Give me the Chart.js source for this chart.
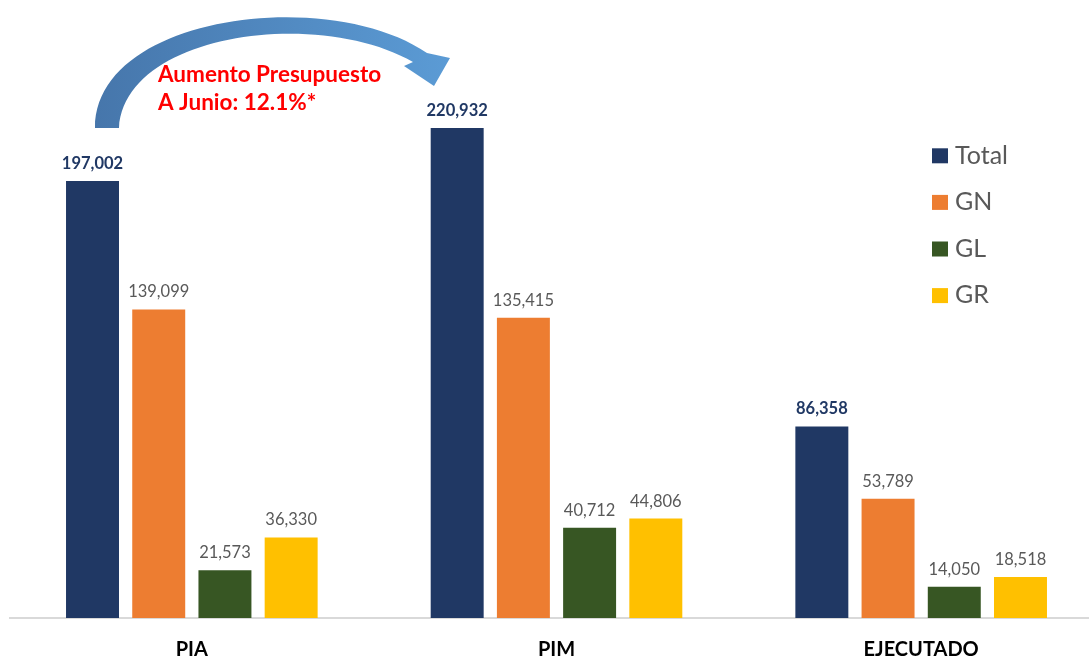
<!DOCTYPE html>
<html>
<head>
<meta charset="utf-8">
<script src="https://cdn.jsdelivr.net/npm/chart.js@4.4.1/dist/chart.umd.min.js"></script>
<style>
  html, body { margin: 0; padding: 0; background: #fff; overflow: hidden; }
  #wrap { width: 1089px; height: 660px; position: relative; overflow: hidden; }
</style>
</head>
<body>
<div id="wrap"><canvas id="c" width="1104" height="682" style="width:1104px;height:682px"></canvas></div>
<script>
const categories = ['PIA', 'PIM', 'EJECUTADO'];
const seriesNames = ['Total', 'GN', 'GL', 'GR'];
const totalValues = [197002, 220932, 86358];
const gnValues = [139099, 135415, 53789];
const glValues = [21573, 40712, 14050];
const grValues = [36330, 44806, 18518];
const annotationLines = ['Aumento Presupuesto', 'A Junio: 12.1%*'];

const seriesColors = ['#203864', '#ED7D31', '#375623', '#FFC000'];
const seriesValues = [totalValues, gnValues, glValues, grValues];

const fmt = v => v.toLocaleString('en-US');

const labelPlugin = {
  id: 'valueLabels',
  afterDatasetsDraw(chart) {
    const ctx = chart.ctx;
    ctx.save();
    ctx.textAlign = 'center';
    ctx.textBaseline = 'alphabetic';
    chart.data.datasets.forEach((ds, di) => {
      const meta = chart.getDatasetMeta(di);
      meta.data.forEach((el, i) => {
        if (di === 0) {
          ctx.font = 'bold 16.5px Lato';
          ctx.fillStyle = '#203864';
        } else {
          ctx.font = '16.5px Lato';
          ctx.fillStyle = '#595959';
        }
        ctx.fillText(fmt(ds.data[i]), el.x, el.y - 12);
      });
    });
    ctx.restore();
  }
};

const legendPlugin = {
  id: 'sideLegend',
  afterDraw(chart) {
    const ctx = chart.ctx;
    ctx.save();
    ctx.font = '25px Lato';
    ctx.textAlign = 'left';
    ctx.textBaseline = 'alphabetic';
    chart.data.datasets.forEach((ds, i) => {
      const cy = 155.8 + i * 46.6;
      ctx.fillStyle = ds.backgroundColor;
      ctx.fillRect(932, cy - 7.5, 16, 15);
      ctx.fillStyle = '#595959';
      ctx.fillText(ds.label, 955, cy + 7.8);
    });
    ctx.restore();
  }
};

const arrowPlugin = {
  id: 'arrowNote',
  afterDraw(chart) {
    const ctx = chart.ctx;
    ctx.save();
    const g = ctx.createLinearGradient(95, 0, 450, 0);
    g.addColorStop(0, '#4676ab');
    g.addColorStop(1, '#5b9bd5');
    ctx.fillStyle = g;
    ctx.beginPath();
    ctx.moveTo(95, 128);
    ctx.bezierCurveTo(95, 14, 330, -14, 427, 53);
    ctx.lineTo(450, 58);
    ctx.lineTo(434, 86);
    ctx.lineTo(404, 66);
    ctx.lineTo(413, 62);
    ctx.bezierCurveTo(320, 8, 125, 32, 119, 128);
    ctx.closePath();
    ctx.fill();

    ctx.fillStyle = '#FF0000';
    ctx.font = 'bold 22.5px Lato';
    ctx.textAlign = 'left';
    ctx.textBaseline = 'alphabetic';
    ctx.fillText(annotationLines[0], 158, 82);
    ctx.fillText(annotationLines[1], 158, 110);
    ctx.restore();
  }
};

const datasets = seriesNames.map((name, i) => ({
  label: name,
  data: seriesValues[i],
  backgroundColor: seriesColors[i],
  borderWidth: 0,
  categoryPercentage: 0.7263,
  barPercentage: 0.80
}));

new Chart(document.getElementById('c'), {
  type: 'bar',
  data: { labels: categories, datasets },
  options: {
    responsive: false,
    animation: false,
    layout: { padding: { left: 9.5, right: 0.5, top: 63.5, bottom: 0 } },
    plugins: { legend: { display: false }, tooltip: { enabled: false } },
    scales: {
      x: {
        grid: { display: false, drawTicks: false },
        border: { display: true, color: '#d9d9d9', width: 2 },
        ticks: {
          padding: 22,
          color: '#000',
          font: { family: 'Lato', size: 20, weight: 'bold', lineHeight: 1 }
        }
      },
      y: {
        display: false,
        min: 0,
        max: 250000
      }
    }
  },
  plugins: [labelPlugin, legendPlugin, arrowPlugin]
});
</script>
</body>
</html>
